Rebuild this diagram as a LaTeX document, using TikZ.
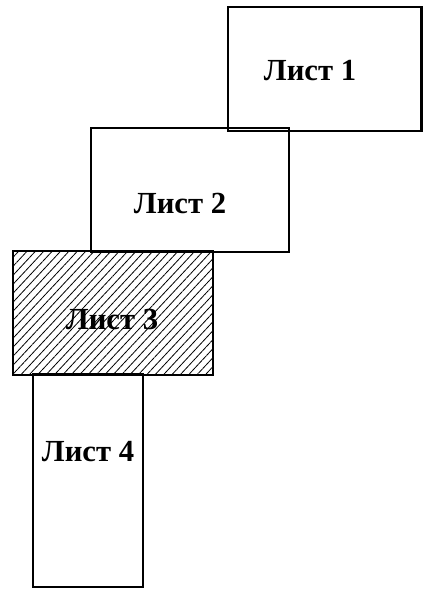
\documentclass[tikz,border=0pt]{standalone}
\usepackage{fontspec}
\setmainfont{Liberation Serif}
\usetikzlibrary{patterns.meta}

\tikzset{every picture/.style={line width=0.75pt}}
\tikzset{
  sheet/.style={draw, line width=2.2pt},
  hatched/.style={pattern={Lines[angle=47,distance=4.6pt,line width=0.6pt]}},
  sheetlabel/.style={inner sep=0pt, font=\fontsize{23}{27}\selectfont\bfseries}
}

\begin{document}
\begin{tikzpicture}[x=0.75pt,y=0.75pt,yscale=-1,xscale=1]
\useasboundingbox (0,0) rectangle (423,595);
\clip (0,0) rectangle (423,595);

%Shape: Rectangle [sheet 1]
\draw [sheet] (228,7) rectangle (421.5,131) ;
%Shape: Rectangle [sheet 2]
\draw [sheet] (91,128) rectangle (289,252) ;
%Shape: Rectangle [sheet 3, hatched]
\draw [sheet, hatched] (13,251) rectangle (213,375) ;
%Shape: Rectangle [sheet 4]
\draw [sheet] (33,374) rectangle (143,587) ;

% Text Node
\node [sheetlabel] (lab1) at (310,71) {Лист 1};
% Text Node
\node [sheetlabel] (lab2) at (180,203) {Лист 2};
% Text Node
\node [sheetlabel] (lab3) at (112,319) {Лист 3};
% Text Node
\node [sheetlabel] (lab4) at (88,452) {Лист 4};

\end{tikzpicture}
\end{document}
